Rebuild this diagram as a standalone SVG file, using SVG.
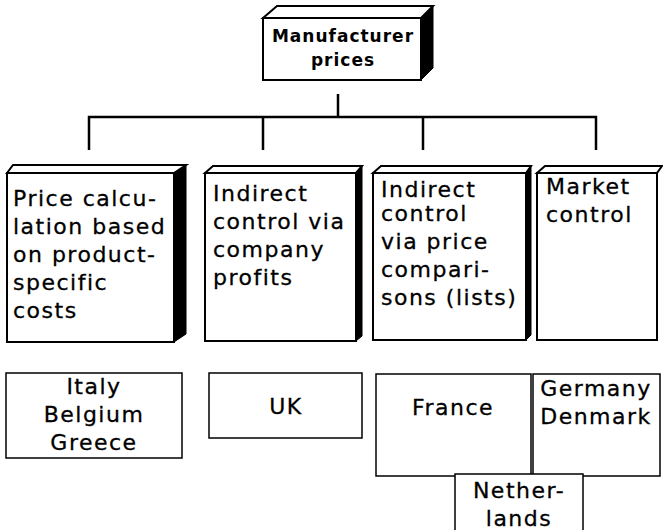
<svg xmlns="http://www.w3.org/2000/svg" width="663" height="530" viewBox="0 0 663 530">
  <style>
    .face { fill: #fff; stroke: #000; stroke-width: 2; }
    .side { fill: #000; stroke: #000; stroke-width: 1; stroke-linejoin: round; }
    .txt { font-family: "DejaVu Sans", "Liberation Sans", sans-serif; font-size: 22px; fill: #000; stroke: #000; stroke-width: 0.3; letter-spacing: 1.5px; }
    .mid { text-anchor: middle; }
    .head { font-family: "DejaVu Sans", "Liberation Sans", sans-serif; font-size: 17px; font-weight: bold; fill: #000; text-anchor: middle; letter-spacing: 1px; }
    .wire { fill: none; stroke: #000; stroke-width: 2.5; }
    .plain { fill: #fff; stroke: #000; stroke-width: 1.5; }
  </style>
  <rect width="663" height="530" fill="#fff"/>

  <!-- top block -->
  <g id="manufacturer">
    <polygon class="face" points="263,18 277,6 433,6 421,18"/>
    <polygon class="side" points="421,18 433,6 433,68 421,80"/>
    <rect class="face" x="263" y="18" width="158" height="62"/>
    <text class="head" x="343" y="42">Manufacturer</text>
    <text class="head" x="343" y="66">prices</text>
  </g>

  <!-- tree connectors -->
  <g id="connectors">
    <path class="wire" d="M338,94 V117 M89,150 V117 H596 V150 M263,117 V150 M423,117 V150"/>
  </g>

  <g id="cost-based">
    <polygon class="face" points="7,173 13,165 186,165 174,173"/>
    <polygon class="side" points="174,173 186,165 186,334 174,342"/>
    <rect class="face" x="7" y="173" width="167" height="169"/>
    <text class="txt" x="13" y="206">Price calcu-</text>
    <text class="txt" x="13" y="234">lation based</text>
    <text class="txt" x="13" y="262">on product-</text>
    <text class="txt" x="13" y="290">specific</text>
    <text class="txt" x="13" y="318">costs</text>
  </g>

  <g id="company-profits">
    <polygon class="face" points="205,173 213,166 362,166 356,173"/>
    <polygon class="side" points="356,173 362,166 362,336 356,341"/>
    <rect class="face" x="205" y="173" width="151" height="168"/>
    <text class="txt" x="213" y="201">Indirect</text>
    <text class="txt" x="213" y="229">control via</text>
    <text class="txt" x="213" y="257">company</text>
    <text class="txt" x="213" y="285">profits</text>
  </g>

  <g id="price-comparisons">
    <polygon class="face" points="373,173 381,166 531,166 526,173"/>
    <polygon class="side" points="526,173 531,166 531,335 526,340"/>
    <rect class="face" x="373" y="173" width="153" height="167"/>
    <text class="txt" x="381" y="197">Indirect</text>
    <text class="txt" x="381" y="221">control</text>
    <text class="txt" x="381" y="249">via price</text>
    <text class="txt" x="381" y="277">compari-</text>
    <text class="txt" x="381" y="305">sons (lists)</text>
  </g>

  <g id="market-control">
    <polygon class="face" points="537,173 545,166 662,166 657,173"/>
    <rect class="face" x="537" y="173" width="120" height="167"/>
    <text class="txt" x="546" y="194">Market</text>
    <text class="txt" x="546" y="222">control</text>
  </g>

  <g id="italy-belgium-greece">
    <rect class="plain" x="6" y="373" width="176" height="85"/>
    <text class="txt mid" x="94" y="394">Italy</text>
    <text class="txt mid" x="94" y="422">Belgium</text>
    <text class="txt mid" x="94" y="450">Greece</text>
  </g>

  <g id="uk">
    <rect class="plain" x="209" y="373" width="153" height="65"/>
    <text class="txt mid" x="286" y="414">UK</text>
  </g>

  <g id="france">
    <rect class="plain" x="376" y="374" width="155" height="102"/>
    <text class="txt mid" x="453" y="415">France</text>
  </g>

  <g id="germany-denmark">
    <rect class="plain" x="533" y="374" width="127" height="102"/>
    <text class="txt mid" x="596" y="396">Germany</text>
    <text class="txt mid" x="596" y="424">Denmark</text>
  </g>

  <g id="netherlands">
    <rect class="plain" x="455" y="474" width="128" height="60"/>
    <text class="txt mid" x="519" y="498">Nether-</text>
    <text class="txt mid" x="519" y="526">lands</text>
  </g>
</svg>
